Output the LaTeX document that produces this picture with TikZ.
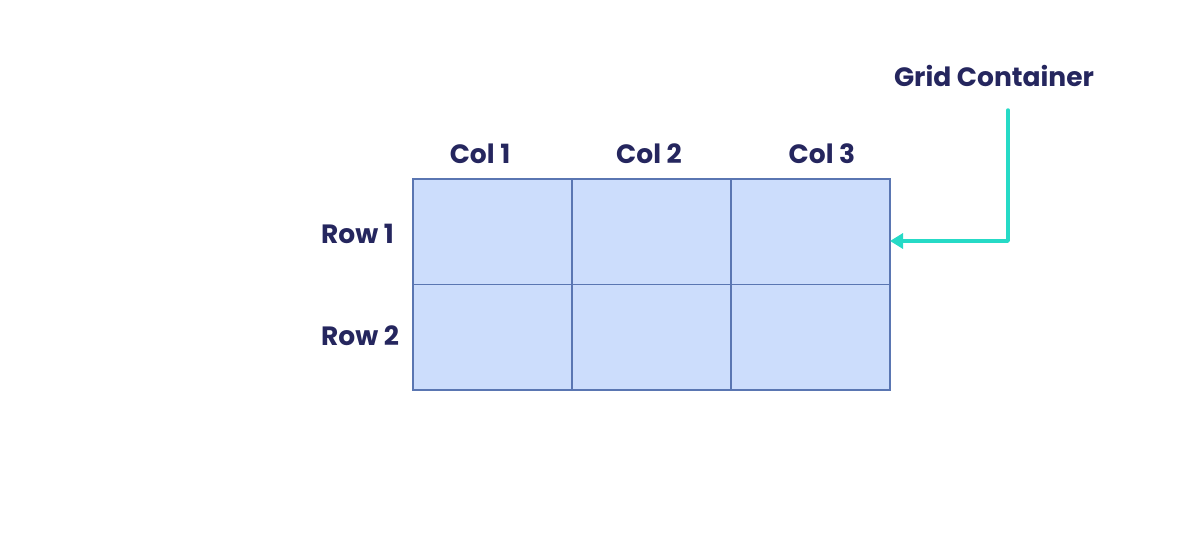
\documentclass[tikz,border=0pt]{standalone}
\usepackage{fontspec}
\setmainfont{Poppins}
\usetikzlibrary{arrows.meta}
\definecolor{navy}{HTML}{25265E}
\definecolor{cellfill}{HTML}{CCDDFC}
\definecolor{gridline}{HTML}{5A76B2}
\definecolor{teal}{HTML}{26DAC6}
\begin{document}
\begin{tikzpicture}[x=1pt,y=-1pt,
  cell/.style={draw=gridline, fill=cellfill, line width=1.6pt, minimum width=159pt, minimum height=105.5pt, anchor=north west, inner sep=0pt, outer sep=0pt},
  lbl/.style={font=\bfseries\fontsize{26.5}{30}\selectfont, text=navy, inner sep=0pt, anchor=base},
  pointer/.style={draw=teal, line width=3.5pt, line cap=round, line join=round, -{Triangle[length=13pt,width=15pt]}}]
\useasboundingbox (0,0) rectangle (1200,543);
\foreach \r/\y in {1/179,2/284.5}{
  \foreach \c/\x in {1/413,2/572,3/731}{
    \node[cell] (c\r\c) at (\x,\y) {};
  }
}
\node[lbl] (col1) at (480,163) {Col 1};
\node[lbl] (col2) at (649,163) {Col 2};
\node[lbl] (col3) at (822,163) {Col 3};
\node[lbl, anchor=base west] (row1) at (321,243) {Row 1};
\node[lbl, anchor=base west] (row2) at (321,345) {Row 2};
\node[lbl] (gc) at (994,87) {Grid Container};
\coordinate (start) at (1008,110);
\coordinate (tip) at (c13.east |- 0,241);
\draw[pointer] (start) |- (tip);
\end{tikzpicture}
\end{document}
